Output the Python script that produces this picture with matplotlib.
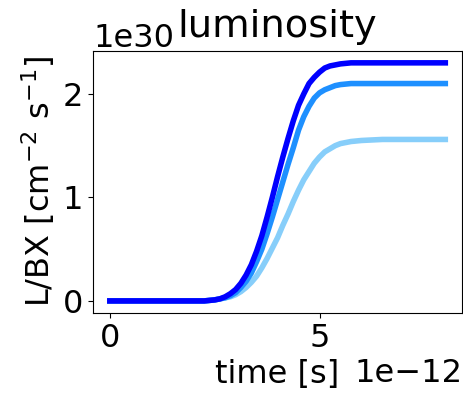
import numpy as np
import matplotlib
matplotlib.use('Agg')
import matplotlib.pyplot as plt

# time in units of 1e-12 s, luminosity in units of 1e30
time = [0, 0.5, 1.0, 1.5, 2.0, 2.25,
        2.5, 2.625, 2.75, 2.875, 3.0, 3.125, 3.25, 3.375, 3.5, 3.625, 3.75, 3.875,
        4.0, 4.125, 4.25, 4.375, 4.5, 4.625, 4.75, 4.875, 5.0, 5.125, 5.25, 5.375, 5.5,
        5.75, 6.0, 6.5, 7.0, 7.5, 8.0]

lum_light = [0, 0, 0, 0, 0, 0.0,
             0.01, 0.02, 0.03, 0.04, 0.06, 0.09, 0.13, 0.18, 0.24, 0.32, 0.41, 0.51,
             0.61, 0.73, 0.84, 0.96, 1.07, 1.17, 1.25, 1.33, 1.39, 1.44, 1.47, 1.50, 1.52,
             1.54, 1.55, 1.56, 1.56, 1.56, 1.56]
lum_mid = [0, 0, 0, 0, 0, 0.0,
           0.01, 0.02, 0.03, 0.05, 0.08, 0.13, 0.19, 0.27, 0.38, 0.50, 0.65, 0.81,
           0.98, 1.15, 1.32, 1.48, 1.65, 1.78, 1.88, 1.96, 2.01, 2.04, 2.06, 2.08, 2.09,
           2.10, 2.10, 2.10, 2.10, 2.10, 2.10]
lum_top = [0, 0, 0, 0, 0, 0.0,
           0.01, 0.02, 0.04, 0.07, 0.11, 0.17, 0.25, 0.35, 0.48, 0.63, 0.81, 1.00,
           1.20, 1.39, 1.57, 1.74, 1.89, 2.00, 2.10, 2.16, 2.21, 2.25, 2.27, 2.28, 2.29,
           2.30, 2.30, 2.30, 2.30, 2.30, 2.30]

t = np.array(time) * 1e-12

plt.rcParams['font.size'] = 23

fig, ax = plt.subplots(figsize=(4.63, 3.98), dpi=100)
fig.subplots_adjust(left=0.201, right=0.998, bottom=0.214, top=0.872)

ax.plot(t, np.array(lum_light) * 1e30, color='lightskyblue', lw=4)
ax.plot(t, np.array(lum_mid) * 1e30, color='dodgerblue', lw=4)
ax.plot(t, np.array(lum_top) * 1e30, color='blue', lw=4)

# fixed y keeps the title beside the 1e30 offset text
ax.set_title('luminosity', y=1.02)
ax.set_xlabel('time [s]')
ax.set_ylabel(r'L/BX [cm$^{-2}$ s$^{-1}$]')

fig.savefig('out.png')
